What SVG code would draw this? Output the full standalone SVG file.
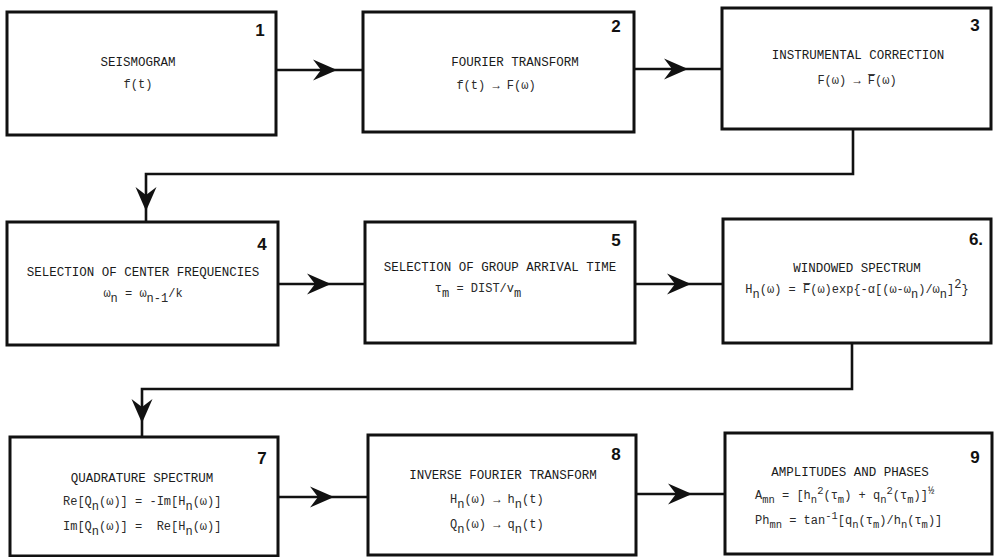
<svg xmlns="http://www.w3.org/2000/svg" xmlns:xlink="http://www.w3.org/1999/xlink" width="994" height="557" viewBox="0 0 994 557">
<style>
.box{fill:#fff;stroke:#111;stroke-width:3}
.con{fill:none;stroke:#111;stroke-width:2.6}
.t{font-family:"Liberation Mono","DejaVu Sans Mono",monospace;font-size:12.5px;fill:#1a1a1a;text-anchor:middle}
.f{font-family:"Liberation Mono","DejaVu Sans Mono",monospace;font-size:12px;fill:#2a2a2a;text-anchor:middle}
.fl{text-anchor:start}
.s{font-size:10.5px}
.n{font-family:"Liberation Sans",Arial,sans-serif;font-weight:bold;font-size:17px;fill:#111;text-anchor:middle}
</style>
<defs>
<path id="ah" d="M0,0 L-24,-10.5 L-16,0 L-24,10.5 Z" fill="#111"/>
</defs>
<g id="connectors">
<g id="c12"><path class="con" d="M276,70 H363"/><use xlink:href="#ah" transform="translate(337,70)"/></g>
<g id="c23"><path class="con" d="M634,69 H722"/><use xlink:href="#ah" transform="translate(688,69)"/></g>
<g id="c34"><path class="con" d="M853,129 V174 H146 V222"/><use xlink:href="#ah" transform="translate(146,211) rotate(90)"/></g>
<g id="c45"><path class="con" d="M278,284 H365"/><use xlink:href="#ah" transform="translate(331,284)"/></g>
<g id="c56"><path class="con" d="M635,284 H723"/><use xlink:href="#ah" transform="translate(691,284)"/></g>
<g id="c67"><path class="con" d="M852,343 V389 H142 V437"/><use xlink:href="#ah" transform="translate(142,423) rotate(90)"/></g>
<g id="c78"><path class="con" d="M278,497 H368"/><use xlink:href="#ah" transform="translate(334,497)"/></g>
<g id="c89"><path class="con" d="M636,494 H725"/><use xlink:href="#ah" transform="translate(692,494)"/></g>
</g>
<g id="node1">
<rect class="box" x="7" y="12" width="269" height="123"/>
<text class="n" x="260" y="36">1</text>
<text class="t" x="138" y="66">SEISMOGRAM</text>
<text class="f" x="138" y="88">f(t)</text>
</g>
<g id="node2">
<rect class="box" x="363" y="12" width="271" height="120"/>
<text class="n" x="616" y="32">2</text>
<text class="t" x="515" y="66">FOURIER TRANSFORM</text>
<text class="f" x="496" y="89">f(t) → F(ω)</text>
</g>
<g id="node3">
<rect class="box" x="722" y="8" width="269" height="121"/>
<text class="n" x="975" y="31">3</text>
<text class="t" x="858" y="59">INSTRUMENTAL CORRECTION</text>
<text class="f" x="857" y="84">F(ω) → F&#x305;(ω)</text>
</g>
<g id="node4">
<rect class="box" x="7" y="222" width="271" height="123"/>
<text class="n" x="262" y="250">4</text>
<text class="t" x="143" y="276">SELECTION OF CENTER FREQUENCIES</text>
<text class="f" x="143" y="297">ω<tspan dy="5">n</tspan><tspan dy="-5"> = ω</tspan><tspan dy="5">n-1</tspan><tspan dy="-5">/k</tspan></text>
</g>
<g id="node5">
<rect class="box" x="365" y="222" width="270" height="121"/>
<text class="n" x="616" y="246">5</text>
<text class="t" x="500" y="271">SELECTION OF GROUP ARRIVAL TIME</text>
<text class="f" x="478" y="292">τ<tspan dy="5">m</tspan><tspan dy="-5"> = DIST/v</tspan><tspan dy="5">m</tspan></text>
</g>
<g id="node6">
<rect class="box" x="723" y="219" width="268" height="124"/>
<text class="n" x="976" y="245">6.</text>
<text class="t" x="857" y="272">WINDOWED SPECTRUM</text>
<text class="f" x="857" y="293">H<tspan dy="5">n</tspan><tspan dy="-5">(ω) = F&#x305;(ω)exp{-α[(ω-ω</tspan><tspan dy="5">n</tspan><tspan dy="-5">)/ω</tspan><tspan dy="5">n</tspan><tspan dy="-5">]</tspan><tspan dy="-5">2</tspan><tspan dy="5">}</tspan></text>
</g>
<g id="node7">
<rect class="box" x="10" y="437" width="268" height="119"/>
<text class="n" x="262" y="464">7</text>
<text class="t" x="142" y="482">QUADRATURE SPECTRUM</text>
<text class="f fl" x="63" y="505" xml:space="preserve">Re[Q<tspan dy="5">n</tspan><tspan dy="-5">(ω)] = -Im[H</tspan><tspan dy="5">n</tspan><tspan dy="-5">(ω)]</tspan></text>
<text class="f fl" x="63" y="530" xml:space="preserve">Im[Q<tspan dy="5">n</tspan><tspan dy="-5">(ω)] =  Re[H</tspan><tspan dy="5">n</tspan><tspan dy="-5">(ω)]</tspan></text>
</g>
<g id="node8">
<rect class="box" x="368" y="435" width="268" height="120"/>
<text class="n" x="616" y="460">8</text>
<text class="t" x="503" y="479">INVERSE FOURIER TRANSFORM</text>
<text class="f fl" x="450" y="503">H<tspan dy="5">n</tspan><tspan dy="-5">(ω) → h</tspan><tspan dy="5">n</tspan><tspan dy="-5">(t)</tspan></text>
<text class="f fl" x="450" y="528">Q<tspan dy="5">n</tspan><tspan dy="-5">(ω) → q</tspan><tspan dy="5">n</tspan><tspan dy="-5">(t)</tspan></text>
</g>
<g id="node9">
<rect class="box" x="725" y="433" width="267" height="121"/>
<text class="n" x="975" y="463">9</text>
<text class="t" x="850" y="476">AMPLITUDES AND PHASES</text>
<text class="f fl" x="755" y="499">A<tspan class="s" dy="4">mn</tspan><tspan dy="-4"> = [h</tspan><tspan class="s" dy="4">n</tspan><tspan class="s" dy="-9">2</tspan><tspan dy="5">(τ</tspan><tspan class="s" dy="4">m</tspan><tspan dy="-4">) + q</tspan><tspan class="s" dy="4">n</tspan><tspan class="s" dy="-9">2</tspan><tspan dy="5">(τ</tspan><tspan class="s" dy="4">m</tspan><tspan dy="-4">)]</tspan><tspan class="s" dy="-5">½</tspan></text>
<text class="f fl" x="755" y="524">Ph<tspan class="s" dy="4">mn</tspan><tspan dy="-4"> = tan</tspan><tspan class="s" dy="-5">-1</tspan><tspan dy="5">[q</tspan><tspan class="s" dy="4">n</tspan><tspan dy="-4">(τ</tspan><tspan class="s" dy="4">m</tspan><tspan dy="-4">)/h</tspan><tspan class="s" dy="4">n</tspan><tspan dy="-4">(τ</tspan><tspan class="s" dy="4">m</tspan><tspan dy="-4">)]</tspan></text>
</g>
</svg>
